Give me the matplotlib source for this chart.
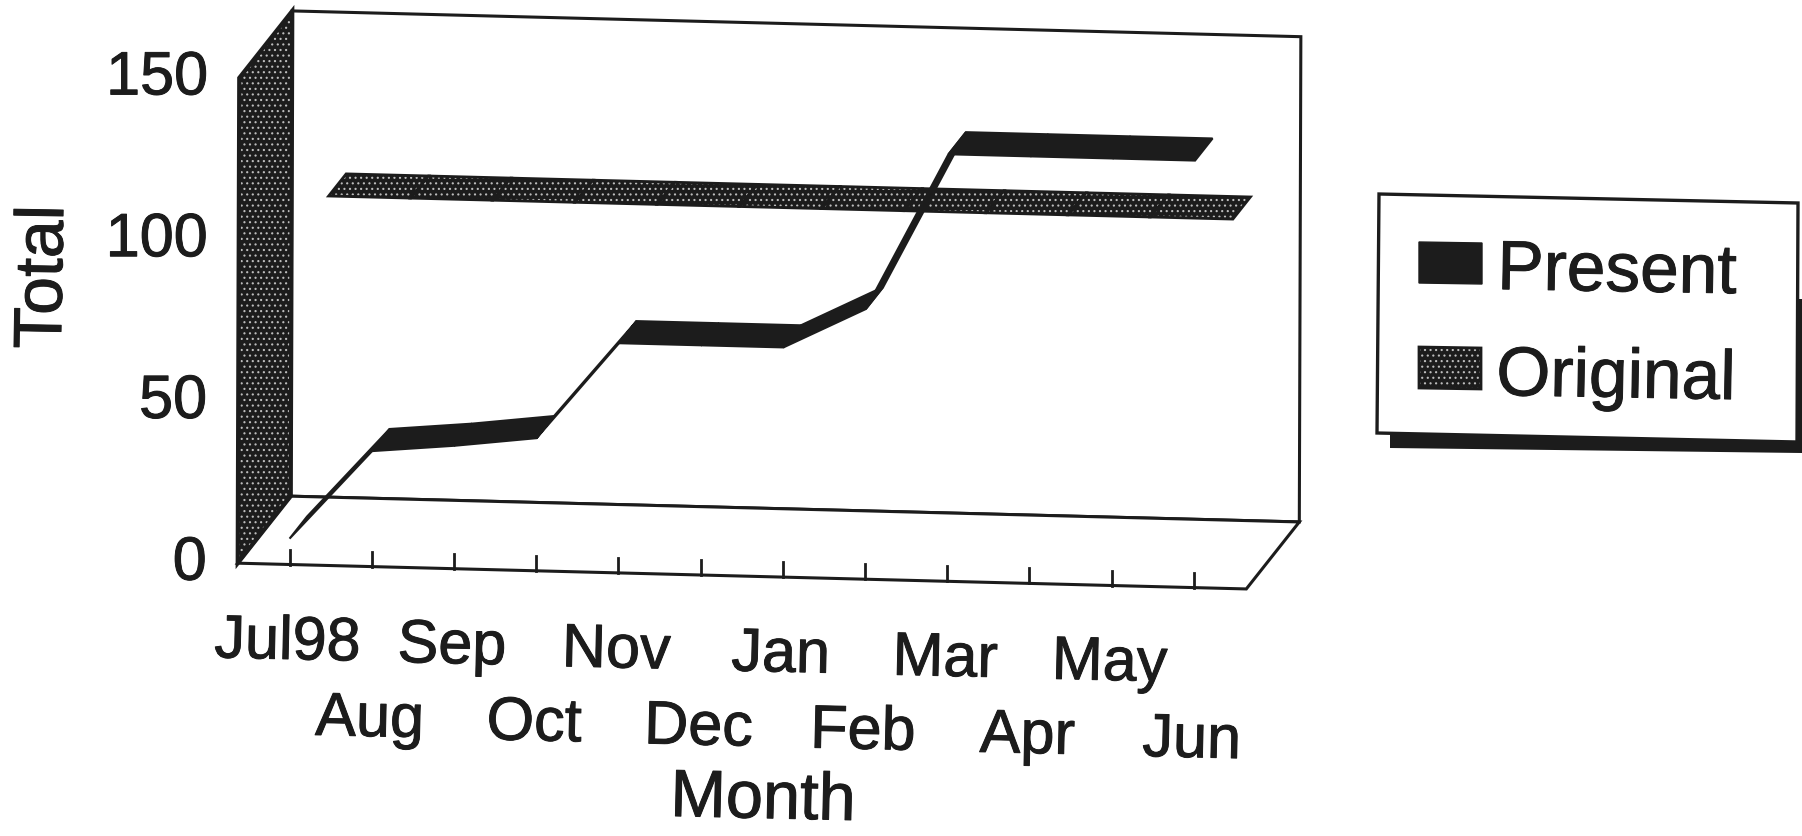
import numpy as np
import matplotlib
matplotlib.use("Agg")
import matplotlib.pyplot as plt
import matplotlib.patheffects as pe
from matplotlib.patches import Polygon

plt.rcParams["font.family"] = ["Liberation Sans", "DejaVu Sans"]
plt.rcParams["hatch.linewidth"] = 0.8

months = ["Jul98", "Aug", "Sep", "Oct", "Nov", "Dec", "Jan", "Feb", "Mar", "Apr", "May", "Jun"]
present = [8, 35.7, 38, 41, 71, 71, 71, 83.5, 132, 132, 132, 132]
original = [99, 99, 99, 99, 99, 99, 99, 99, 99, 99, 99, 99]
y_ticks = [0, 50, 100, 150]

INK = "#1c1c1c"
DOTS = "#bcbcbc"
BOLD = [pe.withStroke(linewidth=0.7, foreground=INK)]

# the old 3d chart is a flat projection: month, total, depth -> pixel
origin = np.array([289.5, 565.5])
month_vec = np.array([82.2, 2.1])
total_vec = np.array([0.0103, -3.235])
depth_vec = np.array([53.0, -67.0])
x_lo, x_hi = -0.63, 11.64


def proj(m, t, d=0.0):
    return origin + month_vec * m + total_vec * t + depth_vec * d


fig = plt.figure(figsize=(18.02, 8.37), dpi=100)
ax = fig.add_axes([0, 0, 1, 1])
ax.set_xlim(0, 1802)
ax.set_ylim(837, 0)
ax.axis("off")


def poly(pts, fc="none", ec=INK, lw=2.0, hatch=None, z=2):
    p = Polygon(pts, closed=True, facecolor=fc, edgecolor=ec, linewidth=lw, zorder=z, joinstyle="miter")
    if hatch:
        p.set_hatch(hatch)
    ax.add_patch(p)


def label(x, y, s, size, **kw):
    ax.text(x, y, s, fontsize=size, color=INK, path_effects=BOLD, **kw)


# walls and floor
top = y_ticks[-1]
back_wall = [proj(x_lo, 0, 1), proj(x_lo, top, 1), proj(x_hi, top, 1), proj(x_hi, 0, 1)]
floor = [proj(x_lo, 0, 0), proj(x_hi, 0, 0), proj(x_hi, 0, 1), proj(x_lo, 0, 1)]
left_wall = [proj(x_lo, 0, 0), proj(x_lo, top, 0), proj(x_lo, top, 1), proj(x_lo, 0, 1)]
poly(back_wall, fc="white", lw=2.2, z=1)
poly(floor, fc="white", lw=2.2, z=1)
poly(left_wall, fc=INK, ec=DOTS, lw=0, hatch="...", z=2)
poly(left_wall, ec=INK, lw=3, z=2)

# ticks on the front edge
for i, m in enumerate(months):
    a = proj(i, 0)
    b = a + np.array([0, -15])
    ax.plot([a[0], b[0]], [a[1], b[1]], color=INK, lw=2.0, zorder=3)
    row = 79 if i % 2 == 0 else 154
    label(a[0] - 2, a[1] + row, m, 44, ha="center", va="center", rotation=-1.3, rotation_mode="anchor")

# ribbons, segment by segment
for i in range(len(months) - 1):
    pts = [proj(i, original[i], 0.72), proj(i + 1, original[i + 1], 0.72),
           proj(i + 1, original[i + 1], 1.05), proj(i, original[i], 1.05)]
    poly(pts, fc=INK, ec=DOTS, lw=0, hatch="...", z=4)
    poly(pts, fc="none", ec=INK, lw=2.0, z=4)

for i in range(len(months) - 1):
    pts = [proj(i, present[i], 0.0), proj(i + 1, present[i + 1], 0.0),
           proj(i + 1, present[i + 1], 0.33), proj(i, present[i], 0.33)]
    poly(pts, fc=INK, ec=INK, lw=1.5, z=5)

# y axis labels
for t in y_ticks:
    p = proj(x_lo, t, 0)
    label(p[0] - 31, p[1] + 1, str(t), 44, ha="right", va="center")

label(44, 278, "Total", 49, rotation=89, ha="center", va="center")
label(763, 802, "Month", 48, rotation=-1.3, ha="center", va="center")

# legend box with its shadow
poly([(1390, 300), (1802, 300), (1802, 454), (1390, 449)], fc=INK, lw=0, z=6)
poly([(1379, 195), (1798, 204), (1797, 443), (1377, 434)], fc="white", lw=2.4, z=7)
poly([(1419, 243), (1482, 244), (1482, 285), (1419, 284)], fc=INK, lw=1, z=8)
poly([(1419, 348), (1481, 349), (1481, 390), (1419, 389)], fc=INK, ec=DOTS, lw=0, hatch="...", z=8)
poly([(1419, 348), (1481, 349), (1481, 390), (1419, 389)], lw=2, z=8)
label(1497, 290, "Present", 50, ha="left", va="baseline", rotation=-1, rotation_mode="anchor", zorder=9)
label(1496, 396, "Original", 50, ha="left", va="baseline", rotation=-1, rotation_mode="anchor", zorder=9)

fig.savefig("out.png", dpi=100, facecolor="white")
